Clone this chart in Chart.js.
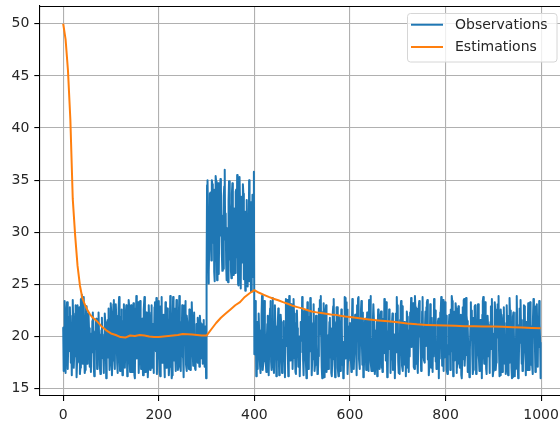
<!DOCTYPE html>
<html>
<head>
<meta charset="utf-8">
<script src="https://cdn.jsdelivr.net/npm/chart.js@4/dist/chart.umd.min.js"></script>
<style>
  html, body { margin: 0; padding: 0; background: #fff; overflow: hidden; }
  #wrap { width: 560px; height: 423px; overflow: hidden; position: relative; }
  canvas { display: block; }
</style>
</head>
<body>
<div id="wrap"><canvas id="chart" width="600" height="423"></canvas></div>
<script>
// Observed samples, steps 0-299 (baseline level)
const obsBefore = [
  20.9,16.7,18.2,23.4,22.1,16.5,19.8,21.6,23.3,17.3,16.9,20.4,18.6,21.9,22.8,20.7,17.5,19.2,16.3,22.0,
  23.5,21.3,17.0,18.1,19.3,22.2,23.0,21.6,16.1,17.5,23.0,17.6,18.9,20.2,22.8,16.4,17.0,23.6,22.7,24.0,
  19.9,17.4,20.6,23.8,18.3,16.5,16.8,21.0,22.9,19.1,17.4,18.6,21.4,22.2,20.8,17.1,17.8,19.0,16.6,20.3,
  18.5,21.5,22.3,19.9,17.1,16.2,18.7,20.5,21.5,21.7,19.4,16.9,17.9,18.1,22.3,20.2,19.1,17.2,16.4,18.6,
  20.6,21.8,19.3,17.9,18.0,16.5,20.2,22.2,21.4,19.7,16.0,17.9,18.0,21.6,20.4,22.7,19.3,16.8,17.5,21.4,
  23.2,22.0,16.3,17.7,20.8,23.1,23.5,18.6,16.9,21.3,23.1,22.0,19.4,17.4,16.5,20.6,22.7,23.8,18.2,16.7,
  19.6,21.9,22.6,18.4,16.3,17.3,21.5,23.1,20.4,17.0,18.7,22.2,23.0,19.8,16.2,17.1,21.5,23.5,22.9,17.7,
  16.6,18.6,23.0,22.4,16.6,17.7,21.1,23.2,19.8,16.3,16.0,22.7,21.1,23.9,17.9,18.0,20.8,23.3,16.5,17.9,
  22.1,23.4,20.5,16.9,17.2,21.7,18.1,16.3,20.9,22.6,23.8,18.7,16.6,16.7,22.3,19.4,20.2,16.1,17.2,23.0,
  21.6,17.4,16.8,20.6,22.3,23.0,17.0,18.4,21.2,16.5,17.9,22.8,23.3,20.3,18.6,23.7,16.4,17.9,21.0,20.8,
  23.4,18.6,16.6,16.2,22.9,21.1,23.8,17.5,18.4,20.6,22.1,18.2,16.1,19.5,23.3,22.9,17.0,18.5,22.7,21.8,
  19.2,16.3,17.1,20.7,23.9,22.4,18.5,16.0,16.3,21.7,23.8,20.1,17.7,22.7,18.8,16.7,20.5,23.5,21.4,19.0,
  16.8,17.2,22.1,23.9,20.1,17.0,16.7,21.4,19.6,23.0,18.3,17.9,16.1,22.6,23.0,20.6,23.4,17.3,16.7,22.0,
  21.2,20.6,17.9,16.9,22.6,19.4,16.8,17.8,21.2,23.3,21.5,18.4,17.2,19.7,22.3,22.3,16.9,16.8,20.0,21.2,
  19.1,17.5,21.8,20.6,18.4,17.1,22.0,21.3,17.9,18.4,21.2,20.7,17.4,19.8,21.6,18.5,17.1,17.6,21.0,16.0
];

// Observed samples, steps 300-399 (shifted level)
const obsShift = [
  25.6,34.5,35.0,31.9,25.1,26.2,29.4,33.7,33.8,30.5,27.3,35.0,34.6,32.6,29.0,34.1,26.2,25.3,28.8,35.4,
  34.9,33.2,25.4,26.8,34.7,28.5,26.0,32.1,29.7,35.1,34.2,31.6,27.9,26.3,30.1,26.5,33.5,34.4,36.0,29.3,
  31.8,26.9,25.4,28.6,30.4,25.2,33.0,34.9,27.4,32.8,31.1,26.3,25.6,33.7,34.7,30.9,25.9,32.3,28.4,31.5,
  26.1,33.9,34.1,27.6,35.5,30.2,25.0,24.9,28.9,35.3,32.8,31.0,24.6,33.4,29.5,27.1,34.6,33.7,25.5,32.0,
  28.0,24.4,31.4,26.4,33.1,29.8,24.8,30.3,27.2,35.0,25.3,32.9,28.3,24.3,30.6,26.6,33.6,25.7,29.2,35.8
];

// Observed samples, steps 400-999 (back to baseline)
const obsAfter = [
  18.3,22.7,23.4,20.9,16.2,17.6,21.4,16.9,19.8,22.2,20.6,18.4,17.1,16.5,19.3,22.0,23.9,20.2,16.8,17.6,
  21.0,23.4,20.7,18.1,17.4,16.6,19.5,21.2,22.0,20.0,16.3,18.8,21.8,22.7,23.4,17.6,16.8,18.5,23.7,22.4,
  17.3,16.5,19.2,23.0,21.0,20.8,16.2,17.9,17.8,21.0,22.7,18.6,16.3,17.1,19.4,22.1,21.4,18.2,16.5,16.9,
  19.7,21.5,21.3,18.9,16.1,20.1,23.6,22.6,19.1,23.5,18.4,16.2,20.6,23.9,21.9,17.7,19.3,23.1,22.1,20.8,
  16.9,18.7,23.6,22.2,17.9,19.5,16.6,16.4,21.3,22.5,20.8,19.0,17.1,17.4,20.0,16.2,18.5,21.4,21.0,19.6,
  23.8,23.3,17.7,16.3,19.1,22.4,22.5,21.6,18.0,16.0,20.7,23.3,22.1,16.9,17.4,21.9,18.6,23.7,23.5,20.5,
  16.3,17.8,18.2,21.3,23.1,20.0,16.7,17.3,18.8,22.0,21.6,19.3,16.4,16.6,18.1,22.7,21.9,23.5,20.2,23.9,
  19.4,17.0,16.0,21.5,22.4,23.2,16.1,17.9,17.7,22.5,23.0,16.6,17.2,18.7,20.1,16.9,19.6,21.4,21.8,18.0,
  20.8,16.5,16.2,17.8,22.2,22.9,23.6,20.4,17.2,16.1,19.7,21.4,22.8,22.8,18.3,17.0,16.2,21.9,20.5,19.9,
  16.7,20.3,22.6,21.1,17.3,19.5,16.0,16.4,18.1,23.8,23.7,17.9,23.3,19.1,22.6,16.4,17.7,18.8,20.5,21.0,
  21.3,18.2,17.8,16.6,20.9,23.6,22.1,19.3,16.9,18.4,21.6,22.1,20.2,18.7,16.3,23.0,19.6,23.7,23.8,17.8,
  16.9,18.0,21.8,22.5,23.4,19.4,17.3,22.3,16.1,16.6,18.5,21.2,21.7,19.0,16.8,20.4,22.3,21.9,17.2,16.7,
  23.5,22.1,18.9,23.9,17.5,16.7,19.8,16.7,21.5,23.1,23.1,20.6,16.4,17.0,17.9,19.2,21.4,16.2,20.3,22.6,
  17.4,21.0,16.9,19.5,22.0,22.4,17.0,20.7,16.6,19.9,21.7,18.4,23.6,23.0,22.8,17.7,23.3,19.3,16.1,16.3,
  20.5,18.8,22.6,21.1,21.3,16.5,19.6,17.8,20.9,22.2,16.8,17.8,17.5,20.2,16.0,19.1,22.2,18.5,23.8,21.9,
  23.0,17.6,16.5,20.3,16.4,21.6,22.7,23.4,19.5,17.2,22.9,16.7,18.8,21.0,21.4,17.3,19.7,16.2,20.1,22.4,
  21.9,17.0,19.2,16.6,20.6,18.1,22.3,21.7,23.7,19.0,22.0,20.4,23.2,18.6,17.1,16.9,23.9,22.8,17.4,22.7,
  18.3,17.5,16.5,20.0,22.9,23.4,21.1,21.2,18.9,16.7,17.1,22.4,23.8,19.6,18.2,17.7,17.5,20.3,22.4,19.1,
  22.8,23.3,23.5,17.8,21.0,16.3,17.1,18.5,23.1,20.5,17.0,21.8,19.9,16.6,20.9,18.1,23.6,19.7,22.5,17.6,
  20.2,16.9,19.0,17.3,21.4,21.7,16.0,20.6,17.9,22.3,22.4,23.8,20.0,17.2,22.9,23.5,16.7,21.6,18.0,23.3,
  19.8,22.0,17.5,16.8,16.4,19.2,18.3,21.1,22.1,20.4,16.8,22.6,18.6,23.9,23.4,21.7,16.2,20.1,17.7,22.4,
  18.1,23.2,22.7,16.5,16.9,17.4,21.6,22.9,20.3,18.8,17.0,21.3,22.1,16.3,16.0,17.8,22.8,18.4,23.5,23.6,
  17.2,18.2,19.9,23.7,22.0,21.5,16.6,20.9,17.6,17.3,16.1,18.7,21.0,23.3,19.7,22.5,18.2,16.4,16.8,21.8,
  19.5,22.9,23.0,20.2,16.4,17.7,18.9,21.2,23.1,20.5,18.3,16.7,17.0,21.6,17.5,20.8,16.0,22.1,23.4,23.8,
  18.6,17.4,17.7,23.3,20.0,16.9,16.4,19.2,22.0,21.1,18.1,20.6,16.5,17.8,21.4,22.9,18.8,23.6,20.3,16.2,
  16.7,18.4,20.1,23.3,22.6,16.8,17.5,21.0,21.8,23.1,19.9,23.9,18.5,16.2,16.3,20.7,22.6,21.5,19.1,16.6,
  20.4,22.1,22.8,18.2,17.4,19.7,16.4,21.3,23.0,20.9,16.7,16.3,22.0,17.5,23.7,22.2,18.6,22.5,17.0,16.0,
  16.1,21.9,22.3,20.5,17.7,16.2,19.6,16.9,22.3,23.9,21.1,17.2,16.0,16.5,19.4,22.7,21.1,23.5,20.8,17.4,
  21.6,16.7,17.3,18.5,23.0,22.9,22.1,19.1,16.3,21.4,17.6,16.8,20.6,23.2,22.6,16.8,19.8,23.3,17.3,21.0,
  18.7,17.4,16.4,20.9,23.6,22.8,21.5,19.3,16.6,22.9,18.0,23.1,20.4,17.1,21.8,19.0,23.4,21.2,19.4,16.0
];

// Running estimate: sample step and estimated level
const estSteps = [
  0,5,10,15,20,25,30,35,40,45,50,55,60,70,80,90,100,110,120,130,140,150,160,170,180,190,
  200,210,220,230,240,250,260,270,280,290,300,310,320,330,340,350,360,370,380,390,400,
  410,420,430,440,450,460,470,480,490,500,510,520,530,540,550,560,570,580,590,600,
  620,640,660,680,700,720,740,760,780,800,820,840,860,880,900,920,940,960,980,999
];
const estValues = [
  50.0,48.5,45.5,40.8,33.2,29.7,26.8,24.9,23.7,23.1,22.6,22.2,21.9,21.5,21.0,20.6,20.3,20.15,19.95,19.9,20.1,20.05,20.15,20.1,20.0,19.95,
  19.95,20.0,20.05,20.1,20.15,20.25,20.22,20.2,20.15,20.1,20.1,20.7,21.3,21.8,22.2,22.6,23.0,23.3,23.8,24.15,24.45,
  24.2,24.0,23.8,23.63,23.48,23.3,23.15,22.95,22.82,22.7,22.55,22.4,22.32,22.25,22.18,22.12,22.08,22.0,21.93,21.88,
  21.75,21.64,21.55,21.47,21.37,21.25,21.17,21.12,21.09,21.06,21.03,21.0,20.99,20.97,20.96,20.94,20.9,20.86,20.83,20.8
];

const xTicks = [0, 200, 400, 600, 800, 1000];
const yTicks = [15, 20, 25, 30, 35, 40, 45, 50];

const observations = obsBefore.concat(obsShift, obsAfter);
const obsPoints = observations.map((v, i) => ({ x: i, y: v }));
const estPoints = estSteps.map((s, i) => ({ x: s, y: estValues[i] }));

const FONT = 'DejaVu Sans';
const TEXT = '#262626';

// Top spine and an in-plot legend box in the upper right corner
const framePlugin = {
  id: 'frame',
  afterDraw(chart) {
    const ctx = chart.ctx;
    const a = chart.chartArea;
    ctx.save();
    ctx.strokeStyle = '#000';
    ctx.lineWidth = 1.1;
    ctx.beginPath();
    ctx.moveTo(a.left, a.top + 0.5);
    ctx.lineTo(a.right, a.top + 0.5);
    ctx.stroke();

    const items = chart.data.datasets.map(d => ({ label: d.label, color: d.borderColor, idx: d.legendIndex }))
      .sort((p, q) => p.idx - q.idx);
    const bx = 407.5, by = 13.5, bw = 149.5, bh = 48.5, r = 3;
    ctx.beginPath();
    ctx.moveTo(bx + r, by);
    ctx.lineTo(bx + bw - r, by);
    ctx.quadraticCurveTo(bx + bw, by, bx + bw, by + r);
    ctx.lineTo(bx + bw, by + bh - r);
    ctx.quadraticCurveTo(bx + bw, by + bh, bx + bw - r, by + bh);
    ctx.lineTo(bx + r, by + bh);
    ctx.quadraticCurveTo(bx, by + bh, bx, by + bh - r);
    ctx.lineTo(bx, by + r);
    ctx.quadraticCurveTo(bx, by, bx + r, by);
    ctx.closePath();
    ctx.fillStyle = 'rgba(255,255,255,0.8)';
    ctx.fill();
    ctx.strokeStyle = '#d6d6d6';
    ctx.lineWidth = 1;
    ctx.stroke();

    ctx.font = '14px "' + FONT + '"';
    ctx.textBaseline = 'middle';
    ctx.textAlign = 'left';
    items.forEach((it, k) => {
      const yy = 24.7 + k * 22.3;
      ctx.strokeStyle = it.color;
      ctx.lineWidth = 2;
      ctx.beginPath();
      ctx.moveTo(411, yy);
      ctx.lineTo(443, yy);
      ctx.stroke();
      ctx.fillStyle = TEXT;
      ctx.fillText(it.label, 455, yy + 0.5);
    });
    ctx.restore();
  }
};

new Chart(document.getElementById('chart'), {
  type: 'line',
  data: {
    datasets: [
      {
        label: 'Observations',
        data: obsPoints,
        borderColor: '#1f77b4',
        backgroundColor: '#1f77b4',
        borderWidth: 2,
        pointRadius: 0,
        borderJoinStyle: 'round',
        order: 2,
        legendIndex: 0
      },
      {
        label: 'Estimations',
        data: estPoints,
        borderColor: '#ff7f0e',
        backgroundColor: '#ff7f0e',
        borderWidth: 2,
        pointRadius: 0,
        borderJoinStyle: 'round',
        order: 1,
        legendIndex: 1
      }
    ]
  },
  options: {
    responsive: false,
    animation: false,
    devicePixelRatio: 1,
    layout: { padding: { top: 6, right: 35, bottom: 0, left: 0 } },
    plugins: { legend: { display: false }, tooltip: { enabled: false } },
    scales: {
      x: {
        type: 'linear',
        min: -50,
        max: 1050,
        afterBuildTicks: s => { s.ticks = xTicks.map(v => ({ value: v })); },
        afterFit: s => { s.height = 27; s.paddingLeft = 0; s.paddingRight = 0; },
        grid: { color: '#b0b0b0', lineWidth: 1.1, tickLength: 5, tickColor: '#000', tickWidth: 1.1 },
        border: { color: '#000', width: 1.1 },
        ticks: { color: TEXT, font: { family: FONT, size: 14 }, padding: 6, maxRotation: 0,
                 callback: v => String(v) }
      },
      y: {
        type: 'linear',
        min: 14.3,
        max: 51.7,
        afterBuildTicks: s => { s.ticks = yTicks.map(v => ({ value: v })); },
        afterFit: s => { s.width = 39.3; s.paddingTop = 0; s.paddingBottom = 0; },
        grid: { color: '#b0b0b0', lineWidth: 1.1, tickLength: 5, tickColor: '#000', tickWidth: 1.1 },
        border: { color: '#000', width: 1.1 },
        ticks: { color: TEXT, font: { family: FONT, size: 14 }, padding: 5,
                 callback: v => String(v) }
      }
    }
  },
  plugins: [framePlugin]
});
</script>
</body>
</html>
